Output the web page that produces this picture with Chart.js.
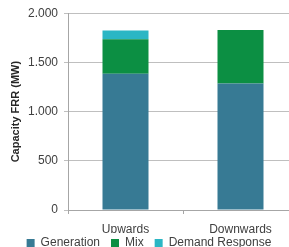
<!DOCTYPE html>
<html>
<head>
<meta charset="utf-8">
<script src="https://cdn.jsdelivr.net/npm/chart.js@4/dist/chart.umd.min.js"></script>
<style>
  html, body { margin: 0; padding: 0; background: #fff; overflow: hidden; }
  #wrap { width: 348px; height: 247px; }
</style>
</head>
<body>
<div id="wrap"><canvas id="chart" width="348" height="247"></canvas></div>
<script>
// data
const categories = ['Upwards', 'Downwards'];
const generation = [1385, 1285];
const mix = [350, 545];
const demandResponse = [90, 0];
const yTicks = [0, 500, 1000, 1500, 2000];

const font = { family: 'Liberation Sans', size: 12 };

// squeeze the legend box so it sits tight under the axis labels
// (layout reserves 14px, then the box is stretched upward so the
// clipped text still fits)
const legendHeight = {
    id: 'legendHeight',
    afterInit(chart) {
        const lg = chart.legend;
        if (!lg) return;
        const orig = lg.fit;
        lg.fit = function () {
            orig.call(this);
            this.height = 14;
        };
    },
    afterLayout(chart) {
        const lg = chart.legend;
        if (!lg) return;
        lg.top -= 7;
    }
};

const ctx = document.getElementById('chart').getContext('2d');

new Chart(ctx, {
    type: 'bar',
    data: {
        labels: categories,
        datasets: [
            { label: 'Generation', data: generation, backgroundColor: '#377A94' },
            { label: 'Mix', data: mix, backgroundColor: '#0C8F43' },
            { label: 'Demand Response', data: demandResponse, backgroundColor: '#2BB6C4' }
        ]
    },
    plugins: [legendHeight],
    options: {
        responsive: false,
        animation: false,
        layout: { padding: { top: 6, right: 50, left: 0, bottom: 0 } },
        datasets: {
            bar: { barPercentage: 0.4, categoryPercentage: 1, borderWidth: 0 }
        },
        scales: {
            x: {
                stacked: true,
                grid: {
                    display: true,
                    drawOnChartArea: false,
                    offset: true,
                    tickLength: 4,
                    color: '#A6A6A6'
                },
                border: { color: '#A6A6A6' },
                ticks: { color: '#404040', font: font, padding: 8 },
                afterFit: s => { s.height = 23; }
            },
            y: {
                stacked: true,
                min: 0,
                max: 2000,
                afterBuildTicks: s => { s.ticks = yTicks.map(v => ({ value: v })); },
                ticks: {
                    color: '#404040',
                    font: font,
                    padding: 6,
                    callback: v => v.toLocaleString('de-DE')
                },
                grid: { color: '#BFBFBF', tickLength: 4 },
                border: { color: '#A6A6A6' },
                title: {
                    display: true,
                    text: 'Capacity FRR (MW)',
                    color: '#262626',
                    font: { family: 'Liberation Sans', size: 11, weight: 'bold' },
                    padding: { top: 9, bottom: 2 }
                },
                afterFit: s => { s.width = 68; }
            }
        },
        plugins: {
            legend: {
                position: 'bottom',
                labels: {
                    color: '#404040',
                    font: font,
                    boxWidth: 8,
                    boxHeight: 8,
                    padding: 11
                }
            },
            tooltip: { enabled: false }
        }
    }
});
</script>
</body>
</html>
